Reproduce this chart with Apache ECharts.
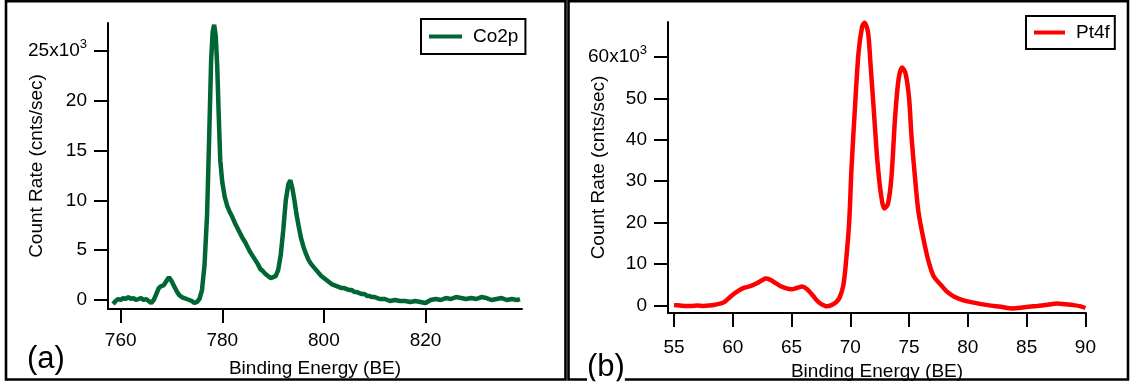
<!DOCTYPE html>
<html>
<head>
<meta charset="utf-8">
<script src="https://cdn.jsdelivr.net/npm/echarts@6/dist/echarts.min.js"></script>
<style>
html,body{margin:0;padding:0;background:#fff;}
#chart{width:1134px;height:387px;}
</style>
</head>
<body>
<div id="chart"></div>
<script>
// ---- Data (binding energy in eV, count rate in cnts/sec) ----
const co2pEnergy = [758.5,759.0,759.5,760.0,760.5,761.0,761.5,762.0,762.5,763.0,763.5,764.0,764.5,765.0,765.5,766.0,766.5,767.0,767.5,768.0,768.5,769.0,769.5,770.0,770.5,771.0,771.5,772.0,772.5,773.0,773.5,774.0,774.5,775.0,775.5,776.0,776.5,777.0,777.4,777.8,778.1,778.4,778.7,779.0,779.3,779.6,780.0,780.5,781.0,781.5,782.0,782.5,783.0,783.5,784.0,784.5,785.0,785.5,786.0,786.5,787.0,787.5,788.0,788.5,789.0,789.5,790.0,790.5,791.0,791.5,792.0,792.5,793.0,793.4,793.8,794.2,794.6,795.0,795.5,796.0,796.5,797.0,797.5,798.0,798.5,799.0,799.5,800.0,800.5,801.0,801.5,802.0,802.5,803.0,803.5,804.0,804.5,805.0,805.5,806.0,806.5,807.0,807.5,808.0,808.5,809.0,809.5,810.0,811.0,812.0,813.0,814.0,815.0,816.0,817.0,818.0,819.0,820.0,821.0,822.0,823.0,824.0,825.0,826.0,827.0,828.0,829.0,830.0,831.0,832.0,833.0,834.0,835.0,836.0,837.0,838.0,838.6];
const co2pRate = [-400,-100,100,0,200,100,300,100,200,0,100,200,0,100,-100,-300,0,600,1200,1400,1500,1900,2300,1900,1400,900,500,300,200,100,0,-100,-300,-200,100,1000,3500,8500,16000,24000,26900,27600,26500,23500,18500,14000,11800,10300,9400,8800,8300,7700,7200,6700,6200,5800,5300,4800,4400,4000,3600,3100,2900,2600,2400,2200,2300,2400,3000,4500,7000,10000,11600,12000,11200,10000,8600,7500,6200,5300,4600,4000,3600,3300,3000,2700,2400,2200,2000,1800,1600,1500,1400,1300,1200,1200,1100,1000,1000,800,800,700,600,600,400,400,300,300,100,100,-100,0,-100,-100,-200,-100,-200,-300,0,100,0,200,100,300,200,100,200,100,300,200,0,100,200,0,100,0,100];

const pt4fEnergy = [55.0,55.5,56.0,56.5,57.0,57.5,58.0,58.5,59.0,59.3,59.6,60.0,60.5,61.0,61.5,62.0,62.5,62.8,63.2,63.6,64.0,64.5,65.0,65.5,65.9,66.3,66.7,67.1,67.5,68.0,68.4,68.8,69.1,69.4,69.6,69.9,70.1,70.4,70.7,71.0,71.2,71.5,71.7,72.0,72.3,72.6,72.9,73.2,73.5,73.8,74.1,74.4,74.7,75.0,75.2,75.5,75.8,76.3,76.7,77.1,77.7,78.2,78.8,79.7,80.5,81.7,82.8,83.8,84.8,85.9,86.8,87.6,88.3,89.0,89.6,90.0];
const pt4fRate = [100,0,-100,-100,0,-100,0,200,500,900,1600,2600,3600,4300,4700,5300,6100,6500,6200,5500,4800,4200,3900,4300,4600,4000,2800,1400,400,-200,100,800,2000,4800,9500,20000,33000,48000,61000,67200,68200,66000,59000,47000,35000,27000,23400,24500,31000,45000,54500,57400,56000,50000,41000,31000,22500,15000,10200,7000,5000,3400,2200,1200,700,100,-300,-700,-400,-100,200,500,300,100,-200,-600];

const co2pXTicks = [760,780,800,820];
const co2pYTicks = [0,5000,10000,15000,20000,25000];
const pt4fXTicks = [55,60,65,70,75,80,85,90];
const pt4fYTicks = [0,10000,20000,30000,40000,50000,60000];

const seriesNames = ['Co2p','Pt4f'];
const xAxisName = 'Binding Energy (BE)';
const yAxisName = 'Count Rate (cnts/sec)';
const panelLabels = ['(a)','(b)'];

// ---- Styling ----
const FONT = "'Liberation Sans', Arial, Helvetica, sans-serif";
const FS = 19;
const green = '#006633';
const red = '#ff0000';

function pairs(xs, ys){ return xs.map((x,i)=>[x, ys[i]]); }

function yFormatter(topVal){
  return function(v){
    const k = Math.round(v/1000);
    if (v === topVal) return '{b|' + k + 'x10}{s|3}';
    return '{b|' + k + '}';
  };
}
const yRich = {
  b: {fontSize: FS, fontFamily: FONT, color: '#000', lineHeight: 19, verticalAlign: 'bottom'},
  s: {fontSize: 13, fontFamily: FONT, color: '#000', lineHeight: 13, padding: [0,0,9,0], verticalAlign: 'bottom'}
};

function xAxisCfg(gridIndex, min, max, ticks, margin, nameGap){
  return {
    type: 'value', gridIndex: gridIndex, min: min, max: max,
    name: xAxisName, nameLocation: 'middle', nameGap: nameGap, nameMoveOverlap: false,
    nameTextStyle: {fontSize: FS, fontFamily: FONT, color: '#000'},
    axisLine: {show: true, onZero: false, lineStyle: {color: '#000', width: 2}},
    axisTick: {show: true, length: 14, lineStyle: {color: '#000', width: 2}, customValues: ticks},
    axisLabel: {show: true, fontSize: FS, fontFamily: FONT, color: '#000', margin: margin, customValues: ticks},
    splitLine: {show: false}
  };
}
function yAxisCfg(gridIndex, min, max, ticks, nameGap){
  return {
    type: 'value', gridIndex: gridIndex, min: min, max: max,
    name: yAxisName, nameLocation: 'middle', nameGap: nameGap, nameMoveOverlap: false,
    nameTextStyle: {fontSize: FS, fontFamily: FONT, color: '#000'},
    axisLine: {show: true, onZero: false, lineStyle: {color: '#000', width: 2}},
    axisTick: {show: true, length: 14, lineStyle: {color: '#000', width: 2}, customValues: ticks},
    axisLabel: {show: true, margin: 21, formatter: yFormatter(ticks[ticks.length-1]), rich: yRich, customValues: ticks},
    splitLine: {show: false}
  };
}

const chart = echarts.init(document.getElementById('chart'), null, {renderer: 'canvas'});
chart.setOption({
  animation: false,
  backgroundColor: '#fff',
  textStyle: {fontFamily: FONT},
  grid: [
    {left: 108, top: 23, width: 414, height: 286},
    {left: 668, top: 22, width: 418, height: 291}
  ],
  xAxis: [
    xAxisCfg(0, 757.5, 839.0, co2pXTicks, 22, 50),
    xAxisCfg(1, 54.49, 90.05, pt4fXTicks, 25, 49)
  ],
  yAxis: [
    yAxisCfg(0, -900, 27780, co2pYTicks, 62),
    yAxisCfg(1, -1800, 68400, pt4fYTicks, 60)
  ],
  legend: [
    {
      data: [seriesNames[0]], left: 421, top: 19, orient: 'horizontal',
      icon: 'rect', itemWidth: 33, itemHeight: 4,
      padding: [8, 7, 8, 8], borderColor: '#000', borderWidth: 2, borderRadius: 0,
      textStyle: {fontSize: FS, fontFamily: FONT, color: '#000', padding: [0,0,0,6]}
    },
    {
      data: [seriesNames[1]], left: 1026, top: 16, orient: 'horizontal',
      icon: 'rect', itemWidth: 31, itemHeight: 4,
      padding: [7, 5, 7, 8], borderColor: '#000', borderWidth: 2, borderRadius: 0,
      textStyle: {fontSize: FS, fontFamily: FONT, color: '#000', padding: [0,0,0,6]}
    }
  ],
  series: [
    {
      name: seriesNames[0], type: 'line', xAxisIndex: 0, yAxisIndex: 0,
      data: pairs(co2pEnergy, co2pRate), showSymbol: false, symbol: 'none',
      lineStyle: {color: green, width: 4.5}, itemStyle: {color: green}
    },
    {
      name: seriesNames[1], type: 'line', xAxisIndex: 1, yAxisIndex: 1,
      data: pairs(pt4fEnergy, pt4fRate), showSymbol: false, symbol: 'none', smooth: 0.3,
      lineStyle: {color: red, width: 4.5}, itemStyle: {color: red}
    }
  ],
  graphic: [
    {type: 'rect', z: 100, shape: {x: 6, y: 1.3, width: 559.5, height: 378.2}, style: {fill: 'none', stroke: '#000', lineWidth: 2.6}},
    {type: 'rect', z: 100, shape: {x: 568.5, y: 1.3, width: 559.5, height: 378.2}, style: {fill: 'none', stroke: '#000', lineWidth: 2.6}},
    {type: 'text', z: 110, left: 27, top: 344, style: {text: panelLabels[0], fontSize: 31, fontFamily: FONT, fill: '#000'}},
    {type: 'text', z: 110, left: 587, top: 352, style: {text: panelLabels[1], fontSize: 31, fontFamily: FONT, fill: '#000', backgroundColor: '#fff'}},
    {type: 'rect', z: 120, shape: {x: 0, y: 381.3, width: 1134, height: 6}, style: {fill: '#fff'}}
  ]
});
</script>
</body>
</html>
